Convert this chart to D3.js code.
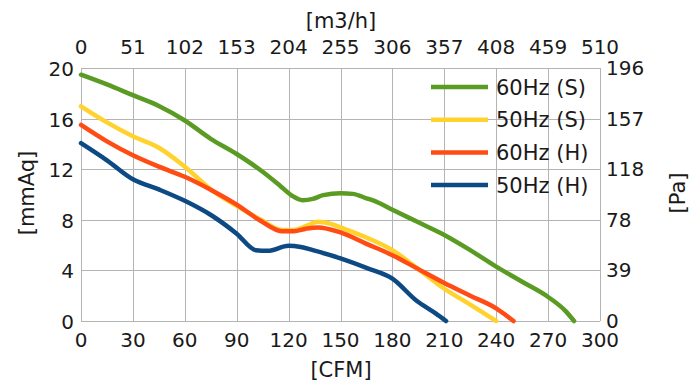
<!DOCTYPE html>
<html>
<head>
<meta charset="utf-8">
<script src="https://cdn.jsdelivr.net/npm/d3@7"></script>
<style>
  body { margin: 0; background: #fff; }
  svg { display: block; font-family: "DejaVu Sans", sans-serif; }
</style>
</head>
<body>
<div class="chart-container"></div>
<script>
// airflow [CFM] vs static pressure [mmAq]
const seriesNames = ["60Hz (S)", "50Hz (S)", "60Hz (H)", "50Hz (H)"];
const seriesColors = ["#5a9b23", "#ffd22e", "#ff4b14", "#0d4a84"];

const green60S = [[0,19.47],[15,18.7],[30,17.85],[45,17.0],[60,15.85],[75,14.4],[90,13.2],[105,11.8],[115,10.7],[122,9.9],[128,9.55],[134,9.65],[140,9.95],[150,10.1],[157,10.05],[165,9.7],[172,9.35],[180,8.8],[195,7.8],[210,6.8],[225,5.6],[240,4.3],[255,3.1],[270,1.9],[280,0.8],[285,0]];
const yellow50S = [[0,16.97],[15,15.7],[30,14.6],[45,13.7],[60,12.2],[76,10.3],[90,9.1],[104,8.0],[116,7.2],[123,7.2],[130,7.5],[137,7.85],[144,7.7],[150,7.4],[165,6.6],[180,5.6],[195,4.1],[210,2.55],[225,1.3],[240,0]];
const orange60H = [[0,15.5],[15,14.2],[30,13.1],[45,12.2],[60,11.4],[76,10.3],[90,9.2],[104,7.9],[116,7.1],[123,7.1],[130,7.3],[137,7.4],[150,7.0],[165,6.1],[180,5.2],[195,4.1],[210,3.0],[225,2.0],[240,1.0],[250,0]];
const blue50H = [[0,14.06],[15,12.7],[30,11.2],[45,10.4],[60,9.5],[76,8.3],[90,6.9],[101,5.6],[108,5.55],[120,5.95],[127,5.85],[134,5.6],[150,4.95],[165,4.2],[180,3.35],[194,1.6],[205,0.6],[211,0]];

const cfmTicks = [0, 30, 60, 90, 120, 150, 180, 210, 240, 270, 300];
const m3hTicks = ["0", "51", "102", "153", "204", "255", "306", "357", "408", "459", "510"];
const mmAqTicks = [0, 4, 8, 12, 16, 20];
const paTicks = ["0", "39", "78", "118", "157", "196"];

const data = [green60S, yellow50S, orange60H, blue50H];

const width = 698, height = 387;
const margin = {top: 68, right: 98, bottom: 66, left: 81};

const svg = d3.select(".chart-container")
    .append("svg")
    .attr("width", width)
    .attr("height", height);

const x = d3.scaleLinear().domain([0, 300]).range([margin.left, width - margin.right]);
const y = d3.scaleLinear().domain([0, 20]).range([height - margin.bottom, margin.top]);

// grid
svg.append("g")
    .attr("stroke", "#b4b4b4")
    .attr("stroke-width", 1)
    .call(g => g.selectAll("line.v")
        .data(cfmTicks)
        .join("line")
        .attr("x1", d => Math.round(x(d)) + 0.5)
        .attr("x2", d => Math.round(x(d)) + 0.5)
        .attr("y1", y(20))
        .attr("y2", y(0)))
    .call(g => g.selectAll("line.h")
        .data(mmAqTicks)
        .join("line")
        .attr("y1", d => Math.round(y(d)) + 0.5)
        .attr("y2", d => Math.round(y(d)) + 0.5)
        .attr("x1", x(0))
        .attr("x2", x(300)));

// curves
const line = d3.line()
    .x(d => x(d[0]))
    .y(d => y(d[1]))
    .curve(d3.curveMonotoneX);

svg.append("g")
    .attr("fill", "none")
    .attr("stroke-width", 4.5)
    .attr("stroke-linejoin", "round")
    .attr("stroke-linecap", "round")
    .selectAll("path")
    .data(data)
    .join("path")
    .attr("stroke", (d, i) => seriesColors[i])
    .attr("d", line);

// tick labels
const tickFont = "20px";
svg.append("g")
    .attr("font-size", tickFont)
    .attr("fill", "#1a1a1a")
    .attr("text-anchor", "middle")
    .selectAll("text")
    .data(cfmTicks)
    .join("text")
    .attr("x", d => x(d))
    .attr("y", 347)
    .text(d => d);

svg.append("g")
    .attr("font-size", tickFont)
    .attr("fill", "#1a1a1a")
    .attr("text-anchor", "middle")
    .selectAll("text")
    .data(m3hTicks)
    .join("text")
    .attr("x", (d, i) => x(cfmTicks[i]))
    .attr("y", 54)
    .text(d => d);

svg.append("g")
    .attr("font-size", tickFont)
    .attr("fill", "#1a1a1a")
    .attr("text-anchor", "end")
    .selectAll("text")
    .data(mmAqTicks)
    .join("text")
    .attr("x", 74)
    .attr("y", d => y(d))
    .attr("dy", "0.4em")
    .text(d => d);

svg.append("g")
    .attr("font-size", tickFont)
    .attr("fill", "#1a1a1a")
    .attr("text-anchor", "start")
    .selectAll("text")
    .data(paTicks)
    .join("text")
    .attr("x", 606)
    .attr("y", (d, i) => y(mmAqTicks[i]))
    .attr("dy", "0.35em")
    .text(d => d);

// axis titles
const titles = svg.append("g")
    .attr("font-size", "21px")
    .attr("fill", "#1a1a1a")
    .attr("text-anchor", "middle");
titles.append("text").attr("x", 341).attr("y", 28).text("[m3/h]");
titles.append("text").attr("x", 341).attr("y", 377).text("[CFM]");
titles.append("text")
    .attr("transform", "translate(34,193) rotate(-90)")
    .text("[mmAq]");
titles.append("text")
    .attr("transform", "translate(685,193) rotate(-90)")
    .text("[Pa]");

// legend
const legend = svg.append("g")
    .selectAll("g")
    .data(seriesNames)
    .join("g")
    .attr("transform", (d, i) => `translate(431,${87 + i * 32.7})`);
legend.append("line")
    .attr("x2", 57)
    .attr("stroke-width", 4.5)
    .attr("stroke", (d, i) => seriesColors[i]);
legend.append("text")
    .attr("x", 65)
    .attr("dy", "0.37em")
    .attr("font-size", "21px")
    .attr("fill", "#1a1a1a")
    .text(d => d);
</script>
</body>
</html>
